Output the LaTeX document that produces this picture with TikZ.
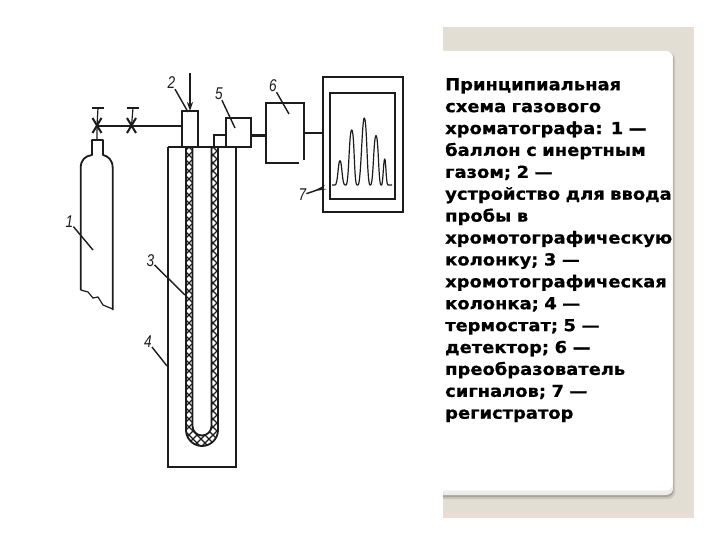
\documentclass[tikz,border=0pt]{standalone}
\usepackage{fontspec}
\newfontfamily\capfont[FakeStretch=1.085,FakeBold=0.6]{DejaVu Sans Bold}
\newfontfamily\lblfont{Liberation Sans}
\usetikzlibrary{arrows.meta,positioning}
\definecolor{panelbg}{HTML}{E3DED3}
\definecolor{panelpink}{HTML}{EBDDD3}
\definecolor{shadowc}{HTML}{A8A498}
\definecolor{shadowl}{HTML}{C9C5B9}
\definecolor{cardlow}{HTML}{EDEDED}
\definecolor{inkc}{HTML}{1C1C1C}
\tikzset{
  ink/.style={draw=inkc,line width=1.8pt},
  thin ink/.style={draw=inkc,line width=1.2pt},
  boxn/.style={ink,fill=white,inner sep=0pt,outer sep=0pt,minimum width=#1},
  pipe/.style={draw=inkc,line width=2.3pt},
  numl/.style={font=\lblfont\itshape\fontsize{17}{17}\selectfont,text=inkc,inner sep=0pt,xscale=0.8},
  leader/.style={draw=inkc,line width=1.4pt},
  valvehead/.style={draw=inkc,line width=2.6pt},
  card/.style={rounded corners=7pt},
}
\begin{document}
\begin{tikzpicture}[x=1pt,y=-1pt]
\useasboundingbox (0,0) rectangle (720,540);
\fill[white] (0,0) rectangle (720,540);
% panel
\fill[panelbg] (443,27) rectangle (694,518);
\fill[panelpink] (691,27) rectangle (694,518);
\fill[panelpink] (443,513) rectangle (694,518);
\begin{scope}
\clip (443,20) rectangle (700,520);
\fill[shadowl,card] (430,52) rectangle (675,499);
\fill[shadowc,card] (430,52) rectangle (673.7,497);
\fill[cardlow,card] (430,51) rectangle (673.2,495);
\fill[white,card] (430,51) rectangle (672.7,490.5);
\end{scope}
\node[anchor=north west,inner sep=0pt,align=left,text width=240pt,font=\capfont\fontsize{16.5}{21.9}\selectfont,text=black] (caption) at (445,78) {Принципиальная\\схема газового\\хроматографа: 1 —\\баллон с инертным\\газом; 2 —\\устройство для ввода\\пробы в\\хромотографическую\\колонку; 3 —\\хромотографическая\\колонка; 4 —\\термостат; 5 —\\детектор; 6 —\\преобразователь\\сигналов; 7 —\\регистратор};
% cylinder
\draw[ink,line join=round] (80.7,290) -- (80.7,168) .. controls (80.7,160) and (85,156) .. (92,155) -- (92,140) -- (103,140) -- (103,155) .. controls (108,156) and (112.7,160) .. (112.7,168) -- (112.7,310);
\draw[thin ink] (80.7,290) -- (88,292) -- (93,298) -- (98,297) -- (103,305) -- (112.7,309);
% valves and pipe
\coordinate (v1) at (97,126);
\coordinate (v2) at (131.5,126);
\draw[valvehead] (92,108) -- (104,108);
\draw[valvehead] (127,108) -- (139,108);
\draw[thin ink] (98,108) -- (v1) -- (97,140);
\draw[thin ink] (133,108) -- (v2);
\draw[line width=2pt,draw=inkc] (92.5,118) -- (101.5,133) (101.5,118) -- (92.5,133);
\draw[line width=2pt,draw=inkc] (127,118) -- (136,133) (136,118) -- (127,133);
% column (crosshatched U tube)
\begin{scope}
\clip (186,147) -- (186,430) .. controls (186,438.8) and (193.2,446) .. (202,446) .. controls (210.8,446) and (218,438.8) .. (218,430) -- (218,147) -- cycle;
\foreach \k in {-10,...,70}{
  \draw[inkc,line width=1.1pt] (150,100+8*\k) -- (260,210+8*\k);
  \draw[inkc,line width=1.1pt] (150,210+8*\k) -- (260,100+8*\k);
}
\end{scope}
\fill[white] (192.5,147) -- (192.5,426) .. controls (192.5,431.2) and (196.8,435.5) .. (202,435.5) .. controls (207.2,435.5) and (211.5,431.2) .. (211.5,426) -- (211.5,147) -- cycle;
\draw[ink] (186,147) -- (186,430) .. controls (186,438.8) and (193.2,446) .. (202,446) .. controls (210.8,446) and (218,438.8) .. (218,430) -- (218,147);
\draw[ink] (192.5,147) -- (192.5,426) .. controls (192.5,431.2) and (196.8,435.5) .. (202,435.5) .. controls (207.2,435.5) and (211.5,431.2) .. (211.5,426) -- (211.5,147);
% thermostat
\draw[ink] (168,147) -- (168,467) -- (236,467) -- (236,147);
\draw[ink] (168,147) -- (250.7,147);
% box 2
\node[boxn=16.5pt,minimum height=36pt] (b2) at (190,129) {};
\coordinate (inlet) at (190,73);
\draw[ink,-{Stealth[length=9pt,width=6pt]}] (inlet) -- (b2.north);
\draw[pipe] (v1) -- (b2.west |- v1);
% box 5
\node[boxn=25pt,minimum height=29pt] (b5) at (238.2,132.5) {};
\coordinate (bend) at (214.3,135);
\draw[ink] (214.3,147) -- (bend) -- (bend -| b5.west);
% box 6
\node[inner sep=0pt,minimum width=37.5pt,minimum height=60pt] (b6) at (285,133) {};
\draw[ink] (b6.south east) ++(-5,0) -- (b6.south west) -- (b6.north west) -- (b6.north east) -- ++(0,57);
\draw[pipe] (b5.east |- 0,135.5) -- (b6.west |- 0,135.5);
% box 7
\node[boxn=80pt,minimum height=135pt,line width=2pt] (b7) at (363,145) {};
\node[boxn=65pt,minimum height=106.6pt] (b7i) at (362.5,146) {};
\draw[pipe] (305,133) -- (b7.west |- 0,133);
% chromatogram
\draw[thin ink,line join=round] (332,185) -- (335,185)
 .. controls (338,185) and (338,160.7) .. (340,160.7) .. controls (342,160.7) and (342,185) .. (345,185)
 -- (346,185) .. controls (349,185) and (349,130) .. (351.7,130) .. controls (354.5,130) and (354,185) .. (357,185)
 -- (358,185) .. controls (361,185) and (362,118) .. (364.3,118) .. controls (367,118) and (367,185) .. (370,185)
 -- (370.5,185) .. controls (373.5,185) and (373.5,135.7) .. (376,135.7) .. controls (378.5,135.7) and (378.5,185) .. (381,185)
 -- (381.5,185) .. controls (383,185) and (383.5,159) .. (384.7,159) .. controls (386,159) and (386,185) .. (388,185) -- (392,185);
% labels
\node[numl] (l1) at (69.5,222) {1};
\node[numl] (l2) at (171.5,83) {2};
\node[numl] (l3) at (150.5,261) {3};
\node[numl] (l4) at (148,342) {4};
\node[numl] (l5) at (219,94) {5};
\node[numl] (l6) at (273,86) {6};
\node[numl] (l7) at (302.5,195) {7};
\coordinate (t1) at (93,250);
\coordinate (t2) at (188,112);
\coordinate (t3) at (185,295);
\coordinate (t4) at (167,366);
\coordinate (t5) at (235,128);
\coordinate (t6) at (289,114);
\coordinate (t7) at (326,187);
\draw[leader] (l1) -- (t1);
\draw[leader] (l2) -- (t2);
\draw[leader] (l3) -- (t3);
\draw[leader] (l4) -- (t4);
\draw[leader] (l5) -- (t5);
\draw[leader] (l6) -- (t6);
\draw[leader,-{Stealth[length=14pt,width=4.5pt,reversed]}] (l7) -- (t7);
\end{tikzpicture}
\end{document}
